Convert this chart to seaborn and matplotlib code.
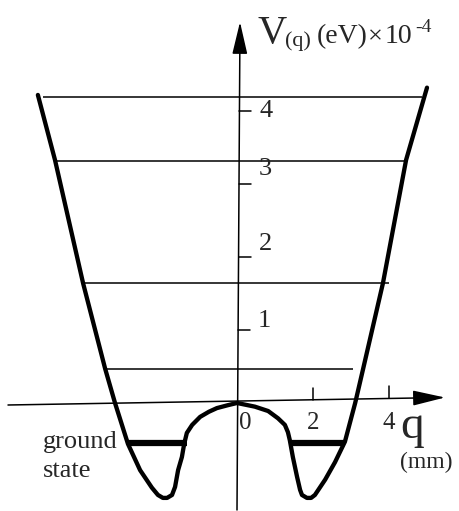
import matplotlib
matplotlib.use("Agg")
import matplotlib.pyplot as plt
import seaborn as sns
import pandas as pd


# ------------------------------------------------
# DATA (q in mm, V in 1e-4 eV)
# ------------------------------------------------

q_curve = [-5.24, -4.79, -4.05, -3.47, -3.21, -2.87, -2.55, -2.24, -2.08, -1.95,
           -1.84, -1.71, -1.63, -1.55, -1.45, -1.39, -1.32, -1.18, -0.97, -0.74,
           -0.53, -0.24, 0.00, 0.47, 0.82, 1.08, 1.26, 1.34, 1.39, 1.47,
           1.58, 1.66, 1.71, 1.84, 1.95, 2.05, 2.32, 2.58, 2.84, 3.11,
           3.32, 3.84, 4.45, 5.00]
v_curve = [4.22, 3.33, 1.64, 0.47, 0.00, -0.56, -0.92, -1.16, -1.26, -1.30,
           -1.30, -1.26, -1.15, -0.92, -0.74, -0.56, -0.41, -0.30, -0.19, -0.12,
           -0.07, -0.03, 0.00, -0.05, -0.11, -0.21, -0.30, -0.40, -0.51, -0.74,
           -1.01, -1.19, -1.26, -1.30, -1.30, -1.26, -1.05, -0.81, -0.53, 0.00,
           0.47, 1.64, 3.33, 4.32]

# excited energy levels
level_v = [4.19, 3.32, 1.64, 0.47]
level_qmin = [-5.11, -4.74, -4.00, -3.45]
level_qmax = [4.87, 4.45, 4.00, 3.05]

# ground state, one in each well
ground_v = [-0.55, -0.55]
ground_qmin = [-2.89, 1.45]
ground_qmax = [-1.32, 2.84]

y_ticks = [1, 2, 3, 4]
x_ticks = [2, 4]
x_labels = [0, 2, 4]


# ------------------------------------------------
# STYLE
# ------------------------------------------------

sns.set_theme(style="white")
plt.rcParams["font.family"] = ["Liberation Serif", "DejaVu Serif"]

PX_X = 38.0   # pixels per mm
PX_Y = 73.0   # pixels per 1e-4 eV

# the sketch puts its y labels a little above the ticks, unevenly
Y_LABEL_SHIFT = {1: 0.12, 2: 0.18, 3: 0.21, 4: 0.0}


fig = plt.figure(figsize=(4.59, 5.11), dpi=100)
ax = fig.add_axes([0, 0, 1, 1])
ax.set_xlim(-237 / PX_X, 222 / PX_X)
ax.set_ylim(-108 / PX_Y, 403 / PX_Y)
ax.axis("off")


# potential
curve = pd.DataFrame({"q": q_curve, "V": v_curve})
sns.lineplot(data=curve, x="q", y="V", sort=False, estimator=None,
             color="black", linewidth=3.1, ax=ax, zorder=3)
ax.lines[-1].set_solid_capstyle("round")
ax.lines[-1].set_solid_joinstyle("round")

# levels
ax.hlines(level_v, level_qmin, level_qmax, color="black", linewidth=1.1, zorder=2)
ax.hlines(ground_v, ground_qmin, ground_qmax, color="black", linewidth=4.5, zorder=4)


# ------------------------------------------------
# HAND-DRAWN AXES
# ------------------------------------------------

arrow = dict(arrowstyle="-|>,head_length=2.0,head_width=0.47",
             mutation_scale=10, lw=1.1, color="black",
             shrinkA=0, shrinkB=0)

x_tail = (-229 / PX_X, -2 / PX_Y)
x_tip = (208 / PX_X, 5.5 / PX_Y)
y_tail = (0.0, -107 / PX_Y)
y_tip = (3 / PX_X, 381 / PX_Y)

ax.annotate("", xy=x_tip, xytext=x_tail, arrowprops=arrow)
ax.annotate("", xy=y_tip, xytext=y_tail, arrowprops=arrow)


def x_axis_v(q):
    t = (q - x_tail[0]) / (x_tip[0] - x_tail[0])
    return x_tail[1] + t * (x_tip[1] - x_tail[1])


def y_axis_q(v):
    t = (v - y_tail[1]) / (y_tip[1] - y_tail[1])
    return y_tail[0] + t * (y_tip[0] - y_tail[0])


for v in y_ticks:
    q0 = y_axis_q(v)
    ax.plot([q0, q0 + 12 / PX_X], [v, v], color="black", lw=1.1)
    ax.text(q0 + 0.70, v + Y_LABEL_SHIFT[v], str(v), fontsize=19,
            ha="center", va="center")

for q in x_ticks:
    v0 = x_axis_v(q)
    ax.plot([q, q], [v0, v0 + 12 / PX_Y], color="black", lw=1.1)

for q in x_labels:
    shift = 0.22 if q == 0 else 0.0
    ax.text(q + shift, -0.27, str(q), fontsize=18, ha="center", va="center")

# axis titles
ax.text(4.29, -0.48, "q", fontsize=34, ha="left", va="baseline")
ax.text(4.29, -0.89, "(mm)", fontsize=17, ha="left", va="baseline")

ax.text(0.53, 4.93, "V", fontsize=29, ha="left", va="baseline")
ax.text(1.27, 4.89, "(q)", fontsize=16, ha="left", va="baseline")
ax.text(2.10, 4.93, "(eV)", fontsize=20, ha="left", va="baseline")
ax.text(3.44, 4.93, "\u00d7", fontsize=19, ha="left", va="baseline")
ax.text(3.89, 4.93, "10", fontsize=20, ha="left", va="baseline")
ax.text(4.68, 5.08, "-4", fontsize=14, ha="left", va="baseline")

ax.text(-5.11, -0.62, "ground", fontsize=19, ha="left", va="baseline")
ax.text(-5.11, -1.01, "state", fontsize=19, ha="left", va="baseline")

fig.savefig("out.png", dpi=100)
plt.close(fig)
